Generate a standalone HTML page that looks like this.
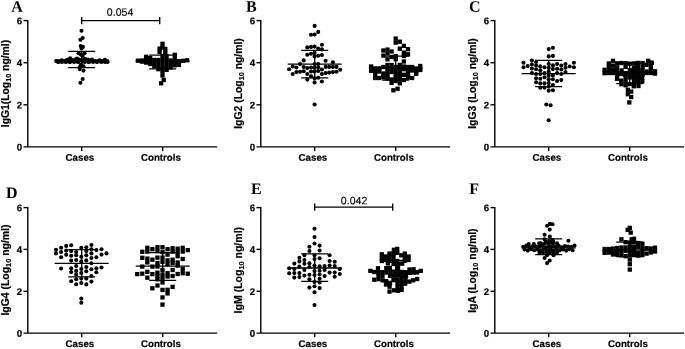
<!DOCTYPE html>
<html><head><meta charset="utf-8"><title>Figure</title>
<style>
html,body{margin:0;padding:0;background:#fff}
svg{display:block}
text{font-family:"Liberation Sans",Arial,sans-serif;fill:#000}
.pl{font-family:"Liberation Serif","Times New Roman",serif;font-weight:bold;font-size:16px}
.tk{font-weight:bold;font-size:9.7px;stroke:#000;stroke-width:.2px}
.yt{font-weight:bold;font-size:10.3px;stroke:#000;stroke-width:.2px}
.sub{font-size:7px}
.pv{font-size:10.6px;stroke:#000;stroke-width:.12px}
.ax{stroke:#000;stroke-width:1.4;fill:none}
.eb{stroke:#000;stroke-width:1.3;fill:none}
.eb2{stroke:#000;stroke-width:1.35;fill:none}
.panel circle,.panel rect{fill:#000}
</style></head><body>
<svg width="685" height="349" viewBox="0 0 685 349">
<rect width="100%" height="100%" fill="#fff"/>
<g class="panel">
<text class="pl" transform="translate(11.3 11.7) rotate(0.03)">A</text>
<path class="ax" d="M27.8 19.95V146.9M23.5 146.9H217.1"/>
<path class="ax" d="M23.5 20.6H27.8"/>
<text class="tk" transform="translate(22.2 24.15) rotate(0.03)" text-anchor="end">6</text>
<path class="ax" d="M23.5 62.7H27.8"/>
<text class="tk" transform="translate(22.2 66.27) rotate(0.03)" text-anchor="end">4</text>
<path class="ax" d="M23.5 104.8H27.8"/>
<text class="tk" transform="translate(22.2 108.38) rotate(0.03)" text-anchor="end">2</text>
<text class="tk" transform="translate(22.2 150.50) rotate(0.03)" text-anchor="end">0</text>
<path class="ax" d="M81.7 146.9v4.1"/>
<text class="tk" transform="translate(79.9 160.65) rotate(0.03)" text-anchor="middle">Cases</text>
<path class="ax" d="M162.7 146.9v4.1"/>
<text class="tk" transform="translate(160.9 160.65) rotate(0.03)" text-anchor="middle">Controls</text>
<text class="yt" style="font-size:10.35px" transform="translate(9.1 127.2) rotate(-90)">IgG1(Log<tspan style="font-size:7.24px" dy="1.6">10</tspan><tspan dy="-1.6"> ng/ml)</tspan></text>
<circle cx="81.5" cy="30.8" r="2.05"/>
<circle cx="82.7" cy="38.0" r="2.05"/>
<circle cx="80.4" cy="39.7" r="2.05"/>
<circle cx="80.7" cy="46.0" r="2.05"/>
<circle cx="82.9" cy="46.9" r="2.05"/>
<circle cx="81.6" cy="48.5" r="2.05"/>
<circle cx="78.5" cy="53.2" r="2.05"/>
<circle cx="84.6" cy="53.2" r="2.05"/>
<circle cx="80.8" cy="54.6" r="2.05"/>
<circle cx="82.6" cy="55.8" r="2.05"/>
<circle cx="81.0" cy="64.5" r="2.05"/>
<circle cx="79.8" cy="67.0" r="2.05"/>
<circle cx="83.5" cy="66.2" r="2.05"/>
<circle cx="83.5" cy="70.6" r="2.05"/>
<circle cx="79.7" cy="69.1" r="2.05"/>
<circle cx="82.7" cy="79.0" r="2.05"/>
<circle cx="80.4" cy="82.7" r="2.05"/>
<circle cx="70.1" cy="58.2" r="2.05"/>
<circle cx="77.0" cy="58.6" r="2.05"/>
<circle cx="85.0" cy="58.8" r="2.05"/>
<circle cx="56.3" cy="61.1" r="2.05"/>
<circle cx="59.0" cy="61.8" r="2.05"/>
<circle cx="61.7" cy="60.2" r="2.05"/>
<circle cx="64.4" cy="61.4" r="2.05"/>
<circle cx="67.1" cy="59.9" r="2.05"/>
<circle cx="69.8" cy="61.9" r="2.05"/>
<circle cx="72.5" cy="60.6" r="2.05"/>
<circle cx="75.2" cy="61.1" r="2.05"/>
<circle cx="77.9" cy="61.8" r="2.05"/>
<circle cx="80.6" cy="60.2" r="2.05"/>
<circle cx="83.3" cy="61.4" r="2.05"/>
<circle cx="86.0" cy="59.9" r="2.05"/>
<circle cx="88.7" cy="61.9" r="2.05"/>
<circle cx="91.4" cy="60.6" r="2.05"/>
<circle cx="94.1" cy="61.1" r="2.05"/>
<circle cx="96.8" cy="61.8" r="2.05"/>
<circle cx="99.5" cy="60.2" r="2.05"/>
<circle cx="102.2" cy="61.4" r="2.05"/>
<circle cx="104.9" cy="59.9" r="2.05"/>
<circle cx="107.6" cy="61.9" r="2.05"/>
<circle cx="58.0" cy="62.0" r="2.05"/>
<circle cx="62.0" cy="62.0" r="2.05"/>
<circle cx="66.0" cy="62.0" r="2.05"/>
<circle cx="70.0" cy="62.0" r="2.05"/>
<circle cx="74.0" cy="62.0" r="2.05"/>
<circle cx="78.0" cy="62.0" r="2.05"/>
<circle cx="85.0" cy="62.0" r="2.05"/>
<circle cx="89.0" cy="62.0" r="2.05"/>
<circle cx="93.0" cy="62.0" r="2.05"/>
<circle cx="97.0" cy="62.0" r="2.05"/>
<circle cx="101.0" cy="62.0" r="2.05"/>
<circle cx="105.0" cy="62.0" r="2.05"/>
<circle cx="71.0" cy="59.6" r="2.05"/>
<circle cx="75.0" cy="59.6" r="2.05"/>
<circle cx="79.0" cy="59.6" r="2.05"/>
<circle cx="84.0" cy="59.6" r="2.05"/>
<circle cx="88.0" cy="59.6" r="2.05"/>
<circle cx="92.0" cy="59.6" r="2.05"/>
<path class="eb" d="M54.7 59.9H108.7M68.2 67.7H95.2M68.2 51.4H95.2M81.7 67.7V51.4"/>
<rect x="160.35" y="41.65" width="4.3" height="4.3"/>
<rect x="160.35" y="45.45" width="4.3" height="4.3"/>
<rect x="160.35" y="53.85" width="4.3" height="4.3"/>
<rect x="160.35" y="57.85" width="4.3" height="4.3"/>
<rect x="160.35" y="61.85" width="4.3" height="4.3"/>
<rect x="160.35" y="65.85" width="4.3" height="4.3"/>
<rect x="160.35" y="69.35" width="4.3" height="4.3"/>
<rect x="160.35" y="73.35" width="4.3" height="4.3"/>
<rect x="161.55" y="77.85" width="4.3" height="4.3"/>
<rect x="158.95" y="81.15" width="4.3" height="4.3"/>
<rect x="156.25" y="57.85" width="4.3" height="4.3"/>
<rect x="156.25" y="61.35" width="4.3" height="4.3"/>
<rect x="156.25" y="64.85" width="4.3" height="4.3"/>
<rect x="156.25" y="67.05" width="4.3" height="4.3"/>
<rect x="164.45" y="54.05" width="4.3" height="4.3"/>
<rect x="164.45" y="57.85" width="4.3" height="4.3"/>
<rect x="164.45" y="61.85" width="4.3" height="4.3"/>
<rect x="164.45" y="65.85" width="4.3" height="4.3"/>
<rect x="164.45" y="67.65" width="4.3" height="4.3"/>
<rect x="152.15" y="57.85" width="4.3" height="4.3"/>
<rect x="152.15" y="61.35" width="4.3" height="4.3"/>
<rect x="152.15" y="64.05" width="4.3" height="4.3"/>
<rect x="168.55" y="58.35" width="4.3" height="4.3"/>
<rect x="168.55" y="61.85" width="4.3" height="4.3"/>
<rect x="168.55" y="65.25" width="4.3" height="4.3"/>
<rect x="172.65" y="52.65" width="4.3" height="4.3"/>
<rect x="172.65" y="56.35" width="4.3" height="4.3"/>
<rect x="172.65" y="59.85" width="4.3" height="4.3"/>
<rect x="172.65" y="63.15" width="4.3" height="4.3"/>
<rect x="148.05" y="55.85" width="4.3" height="4.3"/>
<rect x="148.05" y="59.35" width="4.3" height="4.3"/>
<rect x="148.05" y="61.85" width="4.3" height="4.3"/>
<rect x="143.95" y="54.65" width="4.3" height="4.3"/>
<rect x="143.95" y="58.05" width="4.3" height="4.3"/>
<rect x="143.95" y="60.45" width="4.3" height="4.3"/>
<rect x="176.75" y="59.05" width="4.3" height="4.3"/>
<rect x="176.75" y="62.65" width="4.3" height="4.3"/>
<rect x="180.85" y="58.65" width="4.3" height="4.3"/>
<rect x="139.85" y="58.35" width="4.3" height="4.3"/>
<rect x="139.85" y="59.45" width="4.3" height="4.3"/>
<rect x="184.95" y="58.15" width="4.3" height="4.3"/>
<rect x="135.75" y="58.55" width="4.3" height="4.3"/>
<rect x="157.45" y="46.45" width="4.3" height="4.3"/>
<rect x="157.45" y="49.85" width="4.3" height="4.3"/>
<rect x="163.15" y="46.75" width="4.3" height="4.3"/>
<rect x="163.15" y="50.35" width="4.3" height="4.3"/>
<path class="eb" d="M135.7 61.2H189.7M149.2 68.8H176.2M149.2 55.2H176.2M162.7 68.8V55.2"/>
<path class="eb2" d="M81.7 20.6H159.7M81.7 16.900000000000002v7.4M159.7 16.900000000000002v7.4"/>
<text class="pv" transform="translate(120.1 15.8) rotate(0.03)" text-anchor="middle">0.054</text>
</g>
<g class="panel">
<text class="pl" transform="translate(246.0 11.7) rotate(0.03)">B</text>
<path class="ax" d="M260.8 19.95V146.9M256.5 146.9H450.1"/>
<path class="ax" d="M256.5 20.6H260.8"/>
<text class="tk" transform="translate(255.2 24.15) rotate(0.03)" text-anchor="end">6</text>
<path class="ax" d="M256.5 62.7H260.8"/>
<text class="tk" transform="translate(255.2 66.27) rotate(0.03)" text-anchor="end">4</text>
<path class="ax" d="M256.5 104.8H260.8"/>
<text class="tk" transform="translate(255.2 108.38) rotate(0.03)" text-anchor="end">2</text>
<text class="tk" transform="translate(255.2 150.50) rotate(0.03)" text-anchor="end">0</text>
<path class="ax" d="M314.7 146.9v4.1"/>
<text class="tk" transform="translate(312.9 160.65) rotate(0.03)" text-anchor="middle">Cases</text>
<path class="ax" d="M395.7 146.9v4.1"/>
<text class="tk" transform="translate(393.9 160.65) rotate(0.03)" text-anchor="middle">Controls</text>
<text class="yt" style="font-size:10.4px" transform="translate(242.3 128.8) rotate(-90)">IgG2 (Log<tspan style="font-size:7.28px" dy="1.6">10</tspan><tspan dy="-1.6"> ng/ml)</tspan></text>
<circle cx="314.6" cy="25.9" r="2.05"/>
<circle cx="314.6" cy="34.5" r="2.05"/>
<circle cx="314.6" cy="46.6" r="2.05"/>
<circle cx="314.6" cy="52.9" r="2.05"/>
<circle cx="314.6" cy="56.6" r="2.05"/>
<circle cx="314.6" cy="64.1" r="2.05"/>
<circle cx="314.6" cy="67.8" r="2.05"/>
<circle cx="314.6" cy="71.5" r="2.05"/>
<circle cx="314.6" cy="78.2" r="2.05"/>
<circle cx="314.6" cy="82.4" r="2.05"/>
<circle cx="314.6" cy="104.5" r="2.05"/>
<circle cx="318.2" cy="31.9" r="2.05"/>
<circle cx="318.2" cy="48.5" r="2.05"/>
<circle cx="318.2" cy="55.7" r="2.05"/>
<circle cx="318.2" cy="64.1" r="2.05"/>
<circle cx="318.2" cy="67.3" r="2.05"/>
<circle cx="318.2" cy="71.0" r="2.05"/>
<circle cx="318.2" cy="77.8" r="2.05"/>
<circle cx="311.0" cy="34.8" r="2.05"/>
<circle cx="311.0" cy="46.9" r="2.05"/>
<circle cx="311.0" cy="53.8" r="2.05"/>
<circle cx="311.0" cy="67.5" r="2.05"/>
<circle cx="311.0" cy="71.5" r="2.05"/>
<circle cx="311.0" cy="76.4" r="2.05"/>
<circle cx="321.9" cy="44.8" r="2.05"/>
<circle cx="321.9" cy="49.4" r="2.05"/>
<circle cx="321.9" cy="55.0" r="2.05"/>
<circle cx="321.9" cy="69.5" r="2.05"/>
<circle cx="321.9" cy="74.0" r="2.05"/>
<circle cx="321.9" cy="81.5" r="2.05"/>
<circle cx="307.3" cy="47.4" r="2.05"/>
<circle cx="307.3" cy="54.7" r="2.05"/>
<circle cx="307.3" cy="68.0" r="2.05"/>
<circle cx="307.3" cy="74.0" r="2.05"/>
<circle cx="307.3" cy="79.6" r="2.05"/>
<circle cx="325.6" cy="60.8" r="2.05"/>
<circle cx="325.6" cy="66.9" r="2.05"/>
<circle cx="325.6" cy="73.1" r="2.05"/>
<circle cx="303.7" cy="60.4" r="2.05"/>
<circle cx="303.7" cy="67.0" r="2.05"/>
<circle cx="303.7" cy="71.2" r="2.05"/>
<circle cx="329.2" cy="66.9" r="2.05"/>
<circle cx="329.2" cy="72.6" r="2.05"/>
<circle cx="300.0" cy="64.1" r="2.05"/>
<circle cx="300.0" cy="71.7" r="2.05"/>
<circle cx="332.9" cy="62.2" r="2.05"/>
<circle cx="332.9" cy="66.9" r="2.05"/>
<circle cx="332.9" cy="72.1" r="2.05"/>
<circle cx="296.4" cy="67.5" r="2.05"/>
<circle cx="296.4" cy="72.1" r="2.05"/>
<circle cx="336.5" cy="66.9" r="2.05"/>
<circle cx="336.5" cy="71.7" r="2.05"/>
<circle cx="292.7" cy="66.5" r="2.05"/>
<circle cx="292.7" cy="74.0" r="2.05"/>
<circle cx="340.2" cy="69.8" r="2.05"/>
<circle cx="289.1" cy="69.3" r="2.05"/>
<path class="eb" d="M287.7 64.1H341.7M301.2 77.8H328.2M301.2 50.4H328.2M314.7 77.8V50.4"/>
<rect x="393.55" y="36.45" width="4.3" height="4.3"/>
<rect x="393.55" y="40.45" width="4.3" height="4.3"/>
<rect x="393.55" y="54.05" width="4.3" height="4.3"/>
<rect x="393.55" y="57.05" width="4.3" height="4.3"/>
<rect x="393.55" y="64.85" width="4.3" height="4.3"/>
<rect x="393.55" y="68.35" width="4.3" height="4.3"/>
<rect x="393.55" y="71.85" width="4.3" height="4.3"/>
<rect x="393.55" y="75.35" width="4.3" height="4.3"/>
<rect x="393.55" y="78.85" width="4.3" height="4.3"/>
<rect x="397.65" y="39.55" width="4.3" height="4.3"/>
<rect x="397.65" y="46.55" width="4.3" height="4.3"/>
<rect x="397.65" y="62.85" width="4.3" height="4.3"/>
<rect x="397.65" y="66.35" width="4.3" height="4.3"/>
<rect x="397.65" y="69.85" width="4.3" height="4.3"/>
<rect x="397.65" y="73.35" width="4.3" height="4.3"/>
<rect x="397.65" y="76.85" width="4.3" height="4.3"/>
<rect x="397.65" y="81.15" width="4.3" height="4.3"/>
<rect x="401.75" y="43.75" width="4.3" height="4.3"/>
<rect x="401.75" y="50.45" width="4.3" height="4.3"/>
<rect x="401.75" y="53.85" width="4.3" height="4.3"/>
<rect x="401.75" y="59.35" width="4.3" height="4.3"/>
<rect x="401.75" y="64.35" width="4.3" height="4.3"/>
<rect x="401.75" y="67.05" width="4.3" height="4.3"/>
<rect x="401.75" y="72.65" width="4.3" height="4.3"/>
<rect x="401.75" y="77.85" width="4.3" height="4.3"/>
<rect x="405.85" y="47.05" width="4.3" height="4.3"/>
<rect x="405.85" y="52.15" width="4.3" height="4.3"/>
<rect x="405.85" y="64.85" width="4.3" height="4.3"/>
<rect x="405.85" y="68.35" width="4.3" height="4.3"/>
<rect x="405.85" y="71.85" width="4.3" height="4.3"/>
<rect x="405.85" y="75.35" width="4.3" height="4.3"/>
<rect x="389.45" y="49.35" width="4.3" height="4.3"/>
<rect x="389.45" y="54.85" width="4.3" height="4.3"/>
<rect x="389.45" y="62.85" width="4.3" height="4.3"/>
<rect x="389.45" y="66.35" width="4.3" height="4.3"/>
<rect x="389.45" y="69.85" width="4.3" height="4.3"/>
<rect x="389.45" y="77.35" width="4.3" height="4.3"/>
<rect x="389.45" y="80.65" width="4.3" height="4.3"/>
<rect x="385.35" y="47.45" width="4.3" height="4.3"/>
<rect x="385.35" y="51.25" width="4.3" height="4.3"/>
<rect x="385.35" y="57.15" width="4.3" height="4.3"/>
<rect x="385.35" y="62.85" width="4.3" height="4.3"/>
<rect x="385.35" y="66.35" width="4.3" height="4.3"/>
<rect x="385.35" y="69.85" width="4.3" height="4.3"/>
<rect x="385.35" y="73.35" width="4.3" height="4.3"/>
<rect x="385.35" y="76.35" width="4.3" height="4.3"/>
<rect x="381.25" y="48.35" width="4.3" height="4.3"/>
<rect x="381.25" y="53.45" width="4.3" height="4.3"/>
<rect x="381.25" y="64.85" width="4.3" height="4.3"/>
<rect x="381.25" y="71.35" width="4.3" height="4.3"/>
<rect x="381.25" y="74.85" width="4.3" height="4.3"/>
<rect x="377.15" y="66.25" width="4.3" height="4.3"/>
<rect x="377.15" y="69.35" width="4.3" height="4.3"/>
<rect x="377.15" y="75.85" width="4.3" height="4.3"/>
<rect x="373.05" y="66.25" width="4.3" height="4.3"/>
<rect x="373.05" y="69.85" width="4.3" height="4.3"/>
<rect x="373.05" y="73.35" width="4.3" height="4.3"/>
<rect x="373.05" y="75.85" width="4.3" height="4.3"/>
<rect x="368.95" y="64.35" width="4.3" height="4.3"/>
<rect x="368.95" y="68.65" width="4.3" height="4.3"/>
<rect x="409.95" y="64.85" width="4.3" height="4.3"/>
<rect x="409.95" y="68.35" width="4.3" height="4.3"/>
<rect x="409.95" y="75.85" width="4.3" height="4.3"/>
<rect x="414.05" y="66.35" width="4.3" height="4.3"/>
<rect x="414.05" y="69.85" width="4.3" height="4.3"/>
<rect x="414.05" y="71.65" width="4.3" height="4.3"/>
<rect x="418.15" y="63.85" width="4.3" height="4.3"/>
<rect x="418.15" y="67.85" width="4.3" height="4.3"/>
<rect x="391.25" y="88.15" width="4.3" height="4.3"/>
<rect x="395.45" y="86.55" width="4.3" height="4.3"/>
<path class="eb" d="M368.7 68.2H422.7M382.2 80H409.2M382.2 56.2H409.2M395.7 80V56.2"/>
</g>
<g class="panel">
<text class="pl" transform="translate(469.0 11.8) rotate(0.03)">C</text>
<path class="ax" d="M494.8 19.95V146.9M490.5 146.9H684.1"/>
<path class="ax" d="M490.5 20.6H494.8"/>
<text class="tk" transform="translate(489.2 24.15) rotate(0.03)" text-anchor="end">6</text>
<path class="ax" d="M490.5 62.7H494.8"/>
<text class="tk" transform="translate(489.2 66.27) rotate(0.03)" text-anchor="end">4</text>
<path class="ax" d="M490.5 104.8H494.8"/>
<text class="tk" transform="translate(489.2 108.38) rotate(0.03)" text-anchor="end">2</text>
<text class="tk" transform="translate(489.2 150.50) rotate(0.03)" text-anchor="end">0</text>
<path class="ax" d="M548.7 146.9v4.1"/>
<text class="tk" transform="translate(546.9 160.65) rotate(0.03)" text-anchor="middle">Cases</text>
<path class="ax" d="M629.7 146.9v4.1"/>
<text class="tk" transform="translate(627.9 160.65) rotate(0.03)" text-anchor="middle">Controls</text>
<text class="yt" style="font-size:10.4px" transform="translate(476.3 128.8) rotate(-90)">IgG3 (Log<tspan style="font-size:7.28px" dy="1.6">10</tspan><tspan dy="-1.6"> ng/ml)</tspan></text>
<circle cx="523.5" cy="62.8" r="2.05"/>
<circle cx="523.5" cy="67.3" r="2.05"/>
<circle cx="527.7" cy="66.1" r="2.05"/>
<circle cx="531.9" cy="60.6" r="2.05"/>
<circle cx="531.9" cy="64.5" r="2.05"/>
<circle cx="531.9" cy="68.5" r="2.05"/>
<circle cx="531.9" cy="73.1" r="2.05"/>
<circle cx="536.1" cy="62.0" r="2.05"/>
<circle cx="536.1" cy="65.5" r="2.05"/>
<circle cx="536.1" cy="69.2" r="2.05"/>
<circle cx="536.1" cy="74.0" r="2.05"/>
<circle cx="536.1" cy="78.2" r="2.05"/>
<circle cx="536.1" cy="82.2" r="2.05"/>
<circle cx="540.3" cy="66.4" r="2.05"/>
<circle cx="540.3" cy="70.2" r="2.05"/>
<circle cx="540.3" cy="74.0" r="2.05"/>
<circle cx="540.3" cy="78.7" r="2.05"/>
<circle cx="540.3" cy="83.4" r="2.05"/>
<circle cx="540.3" cy="87.8" r="2.05"/>
<circle cx="544.5" cy="67.3" r="2.05"/>
<circle cx="544.5" cy="73.1" r="2.05"/>
<circle cx="544.5" cy="77.3" r="2.05"/>
<circle cx="544.5" cy="83.4" r="2.05"/>
<circle cx="544.5" cy="87.6" r="2.05"/>
<circle cx="548.7" cy="49.1" r="2.05"/>
<circle cx="548.7" cy="56.4" r="2.05"/>
<circle cx="548.7" cy="64.0" r="2.05"/>
<circle cx="548.7" cy="67.9" r="2.05"/>
<circle cx="548.7" cy="71.7" r="2.05"/>
<circle cx="548.7" cy="75.5" r="2.05"/>
<circle cx="548.7" cy="79.2" r="2.05"/>
<circle cx="548.7" cy="83.0" r="2.05"/>
<circle cx="548.7" cy="86.6" r="2.05"/>
<circle cx="548.7" cy="90.8" r="2.05"/>
<circle cx="548.7" cy="120.3" r="2.05"/>
<circle cx="552.9" cy="47.8" r="2.05"/>
<circle cx="552.9" cy="55.9" r="2.05"/>
<circle cx="552.9" cy="65.4" r="2.05"/>
<circle cx="552.9" cy="69.1" r="2.05"/>
<circle cx="552.9" cy="75.4" r="2.05"/>
<circle cx="552.9" cy="79.2" r="2.05"/>
<circle cx="552.9" cy="85.0" r="2.05"/>
<circle cx="552.9" cy="90.2" r="2.05"/>
<circle cx="557.1" cy="64.0" r="2.05"/>
<circle cx="557.1" cy="68.7" r="2.05"/>
<circle cx="557.1" cy="73.1" r="2.05"/>
<circle cx="557.1" cy="81.0" r="2.05"/>
<circle cx="561.3" cy="65.6" r="2.05"/>
<circle cx="561.3" cy="69.5" r="2.05"/>
<circle cx="561.3" cy="74.0" r="2.05"/>
<circle cx="561.3" cy="80.1" r="2.05"/>
<circle cx="565.5" cy="64.0" r="2.05"/>
<circle cx="565.5" cy="67.8" r="2.05"/>
<circle cx="565.5" cy="72.1" r="2.05"/>
<circle cx="569.7" cy="66.5" r="2.05"/>
<circle cx="573.9" cy="62.8" r="2.05"/>
<circle cx="573.9" cy="67.3" r="2.05"/>
<circle cx="546.3" cy="104.5" r="2.05"/>
<circle cx="550.6" cy="105.2" r="2.05"/>
<path class="eb" d="M521.7 73.6H575.7M535.2 86.6H562.2M535.2 60.3H562.2M548.7 86.6V60.3"/>
<rect x="602.45" y="67.65" width="4.3" height="4.3"/>
<rect x="602.45" y="71.05" width="4.3" height="4.3"/>
<rect x="606.65" y="61.35" width="4.3" height="4.3"/>
<rect x="606.65" y="64.85" width="4.3" height="4.3"/>
<rect x="606.65" y="68.85" width="4.3" height="4.3"/>
<rect x="606.65" y="70.85" width="4.3" height="4.3"/>
<rect x="610.85" y="58.65" width="4.3" height="4.3"/>
<rect x="610.85" y="63.45" width="4.3" height="4.3"/>
<rect x="610.85" y="67.65" width="4.3" height="4.3"/>
<rect x="610.85" y="70.85" width="4.3" height="4.3"/>
<rect x="644.45" y="62.65" width="4.3" height="4.3"/>
<rect x="644.45" y="69.35" width="4.3" height="4.3"/>
<rect x="644.45" y="70.85" width="4.3" height="4.3"/>
<rect x="648.65" y="60.65" width="4.3" height="4.3"/>
<rect x="648.65" y="64.15" width="4.3" height="4.3"/>
<rect x="648.65" y="67.85" width="4.3" height="4.3"/>
<rect x="648.65" y="70.85" width="4.3" height="4.3"/>
<rect x="652.85" y="69.15" width="4.3" height="4.3"/>
<rect x="652.85" y="71.45" width="4.3" height="4.3"/>
<rect x="646.05" y="58.65" width="4.3" height="4.3"/>
<rect x="649.65" y="60.65" width="4.3" height="4.3"/>
<rect x="627.15" y="100.25" width="4.3" height="4.3"/>
<rect x="614.85" y="71.05" width="4.3" height="4.3"/>
<rect x="619.05" y="71.05" width="4.3" height="4.3"/>
<rect x="623.25" y="71.05" width="4.3" height="4.3"/>
<rect x="627.45" y="71.05" width="4.3" height="4.3"/>
<rect x="631.65" y="71.05" width="4.3" height="4.3"/>
<rect x="635.85" y="71.05" width="4.3" height="4.3"/>
<rect x="640.05" y="71.05" width="4.3" height="4.3"/>
<rect x="615.08" y="61.20" width="4.3" height="4.3"/>
<rect x="615.03" y="65.30" width="4.3" height="4.3"/>
<rect x="614.89" y="68.90" width="4.3" height="4.3"/>
<rect x="615.11" y="73.00" width="4.3" height="4.3"/>
<rect x="614.85" y="76.60" width="4.3" height="4.3"/>
<rect x="619.27" y="60.89" width="4.3" height="4.3"/>
<rect x="619.48" y="68.29" width="4.3" height="4.3"/>
<rect x="619.31" y="71.89" width="4.3" height="4.3"/>
<rect x="619.02" y="78.49" width="4.3" height="4.3"/>
<rect x="619.30" y="82.09" width="4.3" height="4.3"/>
<rect x="623.50" y="61.08" width="4.3" height="4.3"/>
<rect x="623.46" y="64.68" width="4.3" height="4.3"/>
<rect x="623.20" y="72.68" width="4.3" height="4.3"/>
<rect x="623.43" y="75.98" width="4.3" height="4.3"/>
<rect x="623.40" y="79.88" width="4.3" height="4.3"/>
<rect x="623.55" y="83.18" width="4.3" height="4.3"/>
<rect x="627.66" y="61.51" width="4.3" height="4.3"/>
<rect x="627.68" y="68.11" width="4.3" height="4.3"/>
<rect x="627.60" y="71.41" width="4.3" height="4.3"/>
<rect x="627.59" y="75.31" width="4.3" height="4.3"/>
<rect x="627.51" y="81.91" width="4.3" height="4.3"/>
<rect x="632.09" y="61.22" width="4.3" height="4.3"/>
<rect x="631.81" y="65.32" width="4.3" height="4.3"/>
<rect x="631.99" y="68.92" width="4.3" height="4.3"/>
<rect x="631.77" y="72.82" width="4.3" height="4.3"/>
<rect x="631.77" y="76.72" width="4.3" height="4.3"/>
<rect x="631.98" y="80.82" width="4.3" height="4.3"/>
<rect x="631.67" y="84.12" width="4.3" height="4.3"/>
<rect x="636.03" y="60.76" width="4.3" height="4.3"/>
<rect x="635.89" y="64.86" width="4.3" height="4.3"/>
<rect x="636.02" y="68.46" width="4.3" height="4.3"/>
<rect x="636.29" y="72.06" width="4.3" height="4.3"/>
<rect x="636.01" y="75.66" width="4.3" height="4.3"/>
<rect x="635.86" y="79.76" width="4.3" height="4.3"/>
<rect x="636.30" y="83.86" width="4.3" height="4.3"/>
<rect x="640.49" y="61.02" width="4.3" height="4.3"/>
<rect x="640.50" y="64.92" width="4.3" height="4.3"/>
<rect x="640.11" y="68.22" width="4.3" height="4.3"/>
<rect x="640.50" y="72.32" width="4.3" height="4.3"/>
<rect x="640.02" y="75.62" width="4.3" height="4.3"/>
<rect x="640.11" y="79.22" width="4.3" height="4.3"/>
<rect x="625.75" y="87.65" width="4.3" height="4.3"/>
<rect x="629.05" y="89.45" width="4.3" height="4.3"/>
<rect x="625.75" y="92.05" width="4.3" height="4.3"/>
<rect x="629.05" y="94.85" width="4.3" height="4.3"/>
<path class="eb" d="M602.7 73.2H656.7M616.2 83.7H643.2M616.2 63H643.2M629.7 83.7V63"/>
</g>
<g class="panel">
<text class="pl" transform="translate(5.9 198.1) rotate(0.03)">D</text>
<path class="ax" d="M27.8 206.95000000000002V333.15M23.5 333.15H217.1"/>
<path class="ax" d="M23.5 207.6H27.8"/>
<text class="tk" transform="translate(22.2 211.15) rotate(0.03)" text-anchor="end">6</text>
<path class="ax" d="M23.5 249.4H27.8"/>
<text class="tk" transform="translate(22.2 253.02) rotate(0.03)" text-anchor="end">4</text>
<path class="ax" d="M23.5 291.3H27.8"/>
<text class="tk" transform="translate(22.2 294.88) rotate(0.03)" text-anchor="end">2</text>
<text class="tk" transform="translate(22.2 336.75) rotate(0.03)" text-anchor="end">0</text>
<path class="ax" d="M81.7 333.15v4.1"/>
<text class="tk" transform="translate(79.9 346.90) rotate(0.03)" text-anchor="middle">Cases</text>
<path class="ax" d="M162.7 333.15v4.1"/>
<text class="tk" transform="translate(160.9 346.90) rotate(0.03)" text-anchor="middle">Controls</text>
<text class="yt" style="font-size:10.44px" transform="translate(9.1 315.6) rotate(-90)">IgG4 (Log<tspan style="font-size:7.31px" dy="1.6">10</tspan><tspan dy="-1.6"> ng/ml)</tspan></text>
<circle cx="56.0" cy="249.7" r="2.05"/>
<circle cx="56.0" cy="253.4" r="2.05"/>
<circle cx="61.1" cy="247.8" r="2.05"/>
<circle cx="61.1" cy="252.0" r="2.05"/>
<circle cx="61.1" cy="257.2" r="2.05"/>
<circle cx="61.1" cy="268.5" r="2.05"/>
<circle cx="66.2" cy="245.9" r="2.05"/>
<circle cx="66.2" cy="250.6" r="2.05"/>
<circle cx="66.2" cy="254.8" r="2.05"/>
<circle cx="71.2" cy="245.3" r="2.05"/>
<circle cx="71.2" cy="251.1" r="2.05"/>
<circle cx="71.2" cy="255.8" r="2.05"/>
<circle cx="71.2" cy="260.6" r="2.05"/>
<circle cx="71.2" cy="268.2" r="2.05"/>
<circle cx="71.2" cy="272.1" r="2.05"/>
<circle cx="71.2" cy="281.2" r="2.05"/>
<circle cx="76.2" cy="252.0" r="2.05"/>
<circle cx="76.2" cy="255.3" r="2.05"/>
<circle cx="76.2" cy="260.0" r="2.05"/>
<circle cx="76.2" cy="266.1" r="2.05"/>
<circle cx="76.2" cy="270.9" r="2.05"/>
<circle cx="76.2" cy="274.6" r="2.05"/>
<circle cx="76.2" cy="279.3" r="2.05"/>
<circle cx="76.2" cy="284.2" r="2.05"/>
<circle cx="81.3" cy="247.8" r="2.05"/>
<circle cx="81.3" cy="256.7" r="2.05"/>
<circle cx="81.3" cy="261.4" r="2.05"/>
<circle cx="81.3" cy="269.0" r="2.05"/>
<circle cx="81.3" cy="273.0" r="2.05"/>
<circle cx="81.3" cy="278.6" r="2.05"/>
<circle cx="81.3" cy="283.0" r="2.05"/>
<circle cx="81.3" cy="298.6" r="2.05"/>
<circle cx="81.3" cy="302.7" r="2.05"/>
<circle cx="86.3" cy="247.3" r="2.05"/>
<circle cx="86.3" cy="251.1" r="2.05"/>
<circle cx="86.3" cy="255.3" r="2.05"/>
<circle cx="86.3" cy="260.4" r="2.05"/>
<circle cx="86.3" cy="267.1" r="2.05"/>
<circle cx="86.3" cy="271.2" r="2.05"/>
<circle cx="86.3" cy="278.6" r="2.05"/>
<circle cx="86.3" cy="284.4" r="2.05"/>
<circle cx="91.4" cy="245.0" r="2.05"/>
<circle cx="91.4" cy="249.2" r="2.05"/>
<circle cx="91.4" cy="253.4" r="2.05"/>
<circle cx="91.4" cy="258.1" r="2.05"/>
<circle cx="91.4" cy="263.2" r="2.05"/>
<circle cx="91.4" cy="269.3" r="2.05"/>
<circle cx="91.4" cy="276.0" r="2.05"/>
<circle cx="91.4" cy="281.6" r="2.05"/>
<circle cx="96.4" cy="250.1" r="2.05"/>
<circle cx="96.4" cy="257.2" r="2.05"/>
<circle cx="96.4" cy="268.2" r="2.05"/>
<circle cx="96.4" cy="272.3" r="2.05"/>
<circle cx="101.5" cy="249.2" r="2.05"/>
<circle cx="101.5" cy="254.6" r="2.05"/>
<circle cx="101.5" cy="267.5" r="2.05"/>
<circle cx="106.5" cy="253.4" r="2.05"/>
<path class="eb" d="M54.7 263.3H108.7M68.2 276.8H95.2M68.2 249.7H95.2M81.7 276.8V249.7"/>
<rect x="135.10" y="271.95" width="4.3" height="4.3"/>
<rect x="140.15" y="249.65" width="4.3" height="4.3"/>
<rect x="140.15" y="255.65" width="4.3" height="4.3"/>
<rect x="140.15" y="264.45" width="4.3" height="4.3"/>
<rect x="140.15" y="271.55" width="4.3" height="4.3"/>
<rect x="145.20" y="245.65" width="4.3" height="4.3"/>
<rect x="145.20" y="249.45" width="4.3" height="4.3"/>
<rect x="145.20" y="256.45" width="4.3" height="4.3"/>
<rect x="145.20" y="260.25" width="4.3" height="4.3"/>
<rect x="145.20" y="269.65" width="4.3" height="4.3"/>
<rect x="145.20" y="275.55" width="4.3" height="4.3"/>
<rect x="150.25" y="247.05" width="4.3" height="4.3"/>
<rect x="150.25" y="257.55" width="4.3" height="4.3"/>
<rect x="150.25" y="264.45" width="4.3" height="4.3"/>
<rect x="150.25" y="271.95" width="4.3" height="4.3"/>
<rect x="150.25" y="286.15" width="4.3" height="4.3"/>
<rect x="155.30" y="245.05" width="4.3" height="4.3"/>
<rect x="155.30" y="248.95" width="4.3" height="4.3"/>
<rect x="155.30" y="255.45" width="4.3" height="4.3"/>
<rect x="155.30" y="260.85" width="4.3" height="4.3"/>
<rect x="155.30" y="264.35" width="4.3" height="4.3"/>
<rect x="155.30" y="270.55" width="4.3" height="4.3"/>
<rect x="155.30" y="273.85" width="4.3" height="4.3"/>
<rect x="155.30" y="277.15" width="4.3" height="4.3"/>
<rect x="155.30" y="283.35" width="4.3" height="4.3"/>
<rect x="160.35" y="245.05" width="4.3" height="4.3"/>
<rect x="160.35" y="249.85" width="4.3" height="4.3"/>
<rect x="160.35" y="255.45" width="4.3" height="4.3"/>
<rect x="160.35" y="259.65" width="4.3" height="4.3"/>
<rect x="160.35" y="267.85" width="4.3" height="4.3"/>
<rect x="160.35" y="272.45" width="4.3" height="4.3"/>
<rect x="160.35" y="276.25" width="4.3" height="4.3"/>
<rect x="160.35" y="280.35" width="4.3" height="4.3"/>
<rect x="160.35" y="287.75" width="4.3" height="4.3"/>
<rect x="160.35" y="295.25" width="4.3" height="4.3"/>
<rect x="160.35" y="302.45" width="4.3" height="4.3"/>
<rect x="165.40" y="247.05" width="4.3" height="4.3"/>
<rect x="165.40" y="252.45" width="4.3" height="4.3"/>
<rect x="165.40" y="258.25" width="4.3" height="4.3"/>
<rect x="165.40" y="262.05" width="4.3" height="4.3"/>
<rect x="165.40" y="271.05" width="4.3" height="4.3"/>
<rect x="165.40" y="274.35" width="4.3" height="4.3"/>
<rect x="165.40" y="287.65" width="4.3" height="4.3"/>
<rect x="165.40" y="291.25" width="4.3" height="4.3"/>
<rect x="170.45" y="246.15" width="4.3" height="4.3"/>
<rect x="170.45" y="249.45" width="4.3" height="4.3"/>
<rect x="170.45" y="257.55" width="4.3" height="4.3"/>
<rect x="170.45" y="260.85" width="4.3" height="4.3"/>
<rect x="170.45" y="267.85" width="4.3" height="4.3"/>
<rect x="170.45" y="273.85" width="4.3" height="4.3"/>
<rect x="170.45" y="284.75" width="4.3" height="4.3"/>
<rect x="175.50" y="246.55" width="4.3" height="4.3"/>
<rect x="175.50" y="250.35" width="4.3" height="4.3"/>
<rect x="175.50" y="254.05" width="4.3" height="4.3"/>
<rect x="175.50" y="260.35" width="4.3" height="4.3"/>
<rect x="175.50" y="263.45" width="4.3" height="4.3"/>
<rect x="175.50" y="271.85" width="4.3" height="4.3"/>
<rect x="180.55" y="245.65" width="4.3" height="4.3"/>
<rect x="180.55" y="249.45" width="4.3" height="4.3"/>
<rect x="180.55" y="256.85" width="4.3" height="4.3"/>
<rect x="180.55" y="266.85" width="4.3" height="4.3"/>
<rect x="180.55" y="271.05" width="4.3" height="4.3"/>
<rect x="185.60" y="247.95" width="4.3" height="4.3"/>
<rect x="185.60" y="271.55" width="4.3" height="4.3"/>
<path class="eb" d="M135.7 266.2H189.7M149.2 280.4H176.2M149.2 252.7H176.2M162.7 280.4V252.7"/>
</g>
<g class="panel">
<text class="pl" transform="translate(251.0 194.1) rotate(0.03)">E</text>
<path class="ax" d="M260.8 206.95000000000002V333.15M256.5 333.15H450.1"/>
<path class="ax" d="M256.5 207.6H260.8"/>
<text class="tk" transform="translate(255.2 211.15) rotate(0.03)" text-anchor="end">6</text>
<path class="ax" d="M256.5 249.4H260.8"/>
<text class="tk" transform="translate(255.2 253.02) rotate(0.03)" text-anchor="end">4</text>
<path class="ax" d="M256.5 291.3H260.8"/>
<text class="tk" transform="translate(255.2 294.88) rotate(0.03)" text-anchor="end">2</text>
<text class="tk" transform="translate(255.2 336.75) rotate(0.03)" text-anchor="end">0</text>
<path class="ax" d="M314.7 333.15v4.1"/>
<text class="tk" transform="translate(312.9 346.90) rotate(0.03)" text-anchor="middle">Cases</text>
<path class="ax" d="M395.7 333.15v4.1"/>
<text class="tk" transform="translate(393.9 346.90) rotate(0.03)" text-anchor="middle">Controls</text>
<text class="yt" style="font-size:10.52px" transform="translate(242.3 313.4) rotate(-90)">IgM (Log<tspan style="font-size:7.36px" dy="1.6">10</tspan><tspan dy="-1.6"> ng/ml)</tspan></text>
<circle cx="314.5" cy="228.7" r="2.05"/>
<circle cx="314.5" cy="237.1" r="2.05"/>
<circle cx="314.5" cy="243.5" r="2.05"/>
<circle cx="314.5" cy="255.3" r="2.05"/>
<circle cx="314.5" cy="259.1" r="2.05"/>
<circle cx="314.5" cy="265.6" r="2.05"/>
<circle cx="314.5" cy="271.1" r="2.05"/>
<circle cx="314.5" cy="275.0" r="2.05"/>
<circle cx="314.5" cy="282.0" r="2.05"/>
<circle cx="314.5" cy="286.2" r="2.05"/>
<circle cx="314.5" cy="292.3" r="2.05"/>
<circle cx="314.5" cy="305.1" r="2.05"/>
<circle cx="309.4" cy="246.8" r="2.05"/>
<circle cx="309.4" cy="251.1" r="2.05"/>
<circle cx="309.4" cy="263.3" r="2.05"/>
<circle cx="309.4" cy="267.0" r="2.05"/>
<circle cx="309.4" cy="274.8" r="2.05"/>
<circle cx="309.4" cy="279.2" r="2.05"/>
<circle cx="309.4" cy="287.6" r="2.05"/>
<circle cx="319.6" cy="245.6" r="2.05"/>
<circle cx="319.6" cy="250.5" r="2.05"/>
<circle cx="319.6" cy="258.3" r="2.05"/>
<circle cx="319.6" cy="266.4" r="2.05"/>
<circle cx="319.6" cy="270.8" r="2.05"/>
<circle cx="319.6" cy="274.5" r="2.05"/>
<circle cx="319.6" cy="278.7" r="2.05"/>
<circle cx="319.6" cy="282.5" r="2.05"/>
<circle cx="319.6" cy="288.1" r="2.05"/>
<circle cx="299.4" cy="257.7" r="2.05"/>
<circle cx="299.4" cy="261.4" r="2.05"/>
<circle cx="299.4" cy="266.6" r="2.05"/>
<circle cx="299.4" cy="273.1" r="2.05"/>
<circle cx="299.4" cy="277.1" r="2.05"/>
<circle cx="304.4" cy="255.3" r="2.05"/>
<circle cx="304.4" cy="260.0" r="2.05"/>
<circle cx="304.4" cy="263.8" r="2.05"/>
<circle cx="304.4" cy="269.9" r="2.05"/>
<circle cx="304.4" cy="275.6" r="2.05"/>
<circle cx="329.6" cy="255.3" r="2.05"/>
<circle cx="329.6" cy="261.0" r="2.05"/>
<circle cx="329.6" cy="265.6" r="2.05"/>
<circle cx="329.6" cy="272.6" r="2.05"/>
<circle cx="334.7" cy="261.7" r="2.05"/>
<circle cx="334.7" cy="266.1" r="2.05"/>
<circle cx="334.7" cy="272.6" r="2.05"/>
<circle cx="334.7" cy="276.7" r="2.05"/>
<circle cx="294.3" cy="263.6" r="2.05"/>
<circle cx="294.3" cy="268.9" r="2.05"/>
<circle cx="294.3" cy="273.1" r="2.05"/>
<circle cx="294.3" cy="277.6" r="2.05"/>
<circle cx="289.2" cy="268.2" r="2.05"/>
<circle cx="289.2" cy="273.3" r="2.05"/>
<circle cx="339.8" cy="269.0" r="2.05"/>
<circle cx="339.8" cy="274.0" r="2.05"/>
<circle cx="324.6" cy="266.1" r="2.05"/>
<circle cx="324.6" cy="270.0" r="2.05"/>
<circle cx="324.6" cy="276.0" r="2.05"/>
<path class="eb" d="M287.7 268H341.7M301.2 281.4H328.2M301.2 253.9H328.2M314.7 281.4V253.9"/>
<rect x="395.05" y="246.75" width="4.3" height="4.3"/>
<rect x="391.75" y="247.65" width="4.3" height="4.3"/>
<rect x="379.65" y="252.15" width="4.3" height="4.3"/>
<rect x="379.65" y="255.85" width="4.3" height="4.3"/>
<rect x="379.65" y="258.85" width="4.3" height="4.3"/>
<rect x="383.55" y="254.35" width="4.3" height="4.3"/>
<rect x="383.55" y="257.85" width="4.3" height="4.3"/>
<rect x="387.35" y="251.45" width="4.3" height="4.3"/>
<rect x="387.35" y="255.05" width="4.3" height="4.3"/>
<rect x="387.35" y="258.65" width="4.3" height="4.3"/>
<rect x="391.35" y="251.35" width="4.3" height="4.3"/>
<rect x="391.35" y="254.85" width="4.3" height="4.3"/>
<rect x="391.35" y="258.35" width="4.3" height="4.3"/>
<rect x="395.15" y="250.65" width="4.3" height="4.3"/>
<rect x="395.15" y="258.85" width="4.3" height="4.3"/>
<rect x="399.15" y="253.15" width="4.3" height="4.3"/>
<rect x="402.65" y="251.45" width="4.3" height="4.3"/>
<rect x="402.65" y="255.05" width="4.3" height="4.3"/>
<rect x="402.65" y="258.65" width="4.3" height="4.3"/>
<rect x="406.45" y="254.35" width="4.3" height="4.3"/>
<rect x="406.45" y="257.85" width="4.3" height="4.3"/>
<rect x="385.75" y="261.25" width="4.3" height="4.3"/>
<rect x="395.85" y="262.05" width="4.3" height="4.3"/>
<rect x="400.05" y="261.45" width="4.3" height="4.3"/>
<rect x="391.45" y="261.85" width="4.3" height="4.3"/>
<rect x="375.85" y="266.15" width="4.3" height="4.3"/>
<rect x="384.15" y="266.05" width="4.3" height="4.3"/>
<rect x="387.65" y="265.85" width="4.3" height="4.3"/>
<rect x="395.85" y="265.65" width="4.3" height="4.3"/>
<rect x="395.85" y="268.85" width="4.3" height="4.3"/>
<rect x="368.25" y="268.75" width="4.3" height="4.3"/>
<rect x="372.15" y="269.85" width="4.3" height="4.3"/>
<rect x="376.15" y="270.45" width="4.3" height="4.3"/>
<rect x="380.25" y="270.15" width="4.3" height="4.3"/>
<rect x="384.35" y="270.35" width="4.3" height="4.3"/>
<rect x="388.35" y="269.85" width="4.3" height="4.3"/>
<rect x="392.35" y="269.45" width="4.3" height="4.3"/>
<rect x="399.85" y="269.85" width="4.3" height="4.3"/>
<rect x="403.85" y="270.35" width="4.3" height="4.3"/>
<rect x="407.35" y="267.35" width="4.3" height="4.3"/>
<rect x="411.45" y="267.15" width="4.3" height="4.3"/>
<rect x="407.65" y="270.65" width="4.3" height="4.3"/>
<rect x="411.65" y="270.45" width="4.3" height="4.3"/>
<rect x="414.85" y="270.25" width="4.3" height="4.3"/>
<rect x="418.55" y="268.75" width="4.3" height="4.3"/>
<rect x="376.35" y="273.45" width="4.3" height="4.3"/>
<rect x="380.35" y="273.65" width="4.3" height="4.3"/>
<rect x="387.85" y="273.65" width="4.3" height="4.3"/>
<rect x="391.85" y="273.35" width="4.3" height="4.3"/>
<rect x="395.85" y="273.05" width="4.3" height="4.3"/>
<rect x="399.85" y="273.65" width="4.3" height="4.3"/>
<rect x="403.85" y="273.85" width="4.3" height="4.3"/>
<rect x="372.15" y="277.55" width="4.3" height="4.3"/>
<rect x="376.35" y="277.05" width="4.3" height="4.3"/>
<rect x="380.45" y="278.15" width="4.3" height="4.3"/>
<rect x="384.05" y="279.05" width="4.3" height="4.3"/>
<rect x="391.35" y="277.35" width="4.3" height="4.3"/>
<rect x="395.35" y="277.15" width="4.3" height="4.3"/>
<rect x="399.35" y="277.35" width="4.3" height="4.3"/>
<rect x="403.35" y="277.65" width="4.3" height="4.3"/>
<rect x="407.15" y="279.45" width="4.3" height="4.3"/>
<rect x="411.05" y="278.15" width="4.3" height="4.3"/>
<rect x="415.05" y="276.85" width="4.3" height="4.3"/>
<rect x="383.85" y="282.35" width="4.3" height="4.3"/>
<rect x="387.85" y="281.35" width="4.3" height="4.3"/>
<rect x="395.35" y="281.05" width="4.3" height="4.3"/>
<rect x="399.35" y="281.25" width="4.3" height="4.3"/>
<rect x="403.05" y="281.45" width="4.3" height="4.3"/>
<rect x="387.45" y="284.55" width="4.3" height="4.3"/>
<rect x="395.35" y="284.85" width="4.3" height="4.3"/>
<rect x="399.35" y="284.65" width="4.3" height="4.3"/>
<rect x="387.35" y="289.45" width="4.3" height="4.3"/>
<rect x="391.85" y="288.15" width="4.3" height="4.3"/>
<rect x="395.85" y="288.65" width="4.3" height="4.3"/>
<rect x="399.45" y="287.75" width="4.3" height="4.3"/>
<path class="eb" d="M368.7 271H422.7M382.2 281.5H409.2M382.2 260.5H409.2M395.7 281.5V260.5"/>
<path class="eb2" d="M314.7 207.15H392.7M314.7 203.45000000000002v7.4M392.7 203.45000000000002v7.4"/>
<text class="pv" transform="translate(354.1 204.2) rotate(0.03)" text-anchor="middle">0.042</text>
</g>
<g class="panel">
<text class="pl" transform="translate(469.3 194.1) rotate(0.03)">F</text>
<path class="ax" d="M494.8 206.95000000000002V333.15M490.5 333.15H684.1"/>
<path class="ax" d="M490.5 207.6H494.8"/>
<text class="tk" transform="translate(489.2 211.15) rotate(0.03)" text-anchor="end">6</text>
<path class="ax" d="M490.5 249.4H494.8"/>
<text class="tk" transform="translate(489.2 253.02) rotate(0.03)" text-anchor="end">4</text>
<path class="ax" d="M490.5 291.3H494.8"/>
<text class="tk" transform="translate(489.2 294.88) rotate(0.03)" text-anchor="end">2</text>
<text class="tk" transform="translate(489.2 336.75) rotate(0.03)" text-anchor="end">0</text>
<path class="ax" d="M548.7 333.15v4.1"/>
<text class="tk" transform="translate(546.9 346.90) rotate(0.03)" text-anchor="middle">Cases</text>
<path class="ax" d="M629.7 333.15v4.1"/>
<text class="tk" transform="translate(627.9 346.90) rotate(0.03)" text-anchor="middle">Controls</text>
<text class="yt" style="font-size:10.46px" transform="translate(476.3 312.8) rotate(-90)">IgA (Log<tspan style="font-size:7.32px" dy="1.6">10</tspan><tspan dy="-1.6"> ng/ml)</tspan></text>
<circle cx="547.1" cy="225.8" r="2.05"/>
<circle cx="549.9" cy="223.9" r="2.05"/>
<circle cx="552.5" cy="224.2" r="2.05"/>
<circle cx="549.7" cy="229.6" r="2.05"/>
<circle cx="544.6" cy="234.7" r="2.05"/>
<circle cx="549.9" cy="236.6" r="2.05"/>
<circle cx="544.6" cy="239.2" r="2.05"/>
<circle cx="552.5" cy="240.1" r="2.05"/>
<circle cx="568.4" cy="240.8" r="2.05"/>
<circle cx="539.2" cy="243.3" r="2.05"/>
<circle cx="533.8" cy="244.0" r="2.05"/>
<circle cx="528.7" cy="244.0" r="2.05"/>
<circle cx="544.6" cy="258.0" r="2.05"/>
<circle cx="549.7" cy="260.5" r="2.05"/>
<circle cx="547.1" cy="263.1" r="2.05"/>
<circle cx="523.3" cy="246.8" r="2.05"/>
<circle cx="526.5" cy="245.6" r="2.05"/>
<circle cx="529.7" cy="247.2" r="2.05"/>
<circle cx="532.9" cy="246.0" r="2.05"/>
<circle cx="536.1" cy="246.5" r="2.05"/>
<circle cx="539.3" cy="246.8" r="2.05"/>
<circle cx="542.5" cy="245.6" r="2.05"/>
<circle cx="545.7" cy="247.2" r="2.05"/>
<circle cx="548.9" cy="246.0" r="2.05"/>
<circle cx="552.1" cy="246.5" r="2.05"/>
<circle cx="555.3" cy="246.8" r="2.05"/>
<circle cx="558.5" cy="245.6" r="2.05"/>
<circle cx="561.7" cy="247.2" r="2.05"/>
<circle cx="564.9" cy="246.0" r="2.05"/>
<circle cx="568.1" cy="246.5" r="2.05"/>
<circle cx="571.3" cy="246.8" r="2.05"/>
<circle cx="574.5" cy="245.6" r="2.05"/>
<circle cx="524.6" cy="249.5" r="2.05"/>
<circle cx="527.8" cy="250.6" r="2.05"/>
<circle cx="531.0" cy="249.1" r="2.05"/>
<circle cx="534.2" cy="250.2" r="2.05"/>
<circle cx="537.4" cy="249.5" r="2.05"/>
<circle cx="540.6" cy="250.6" r="2.05"/>
<circle cx="543.8" cy="249.1" r="2.05"/>
<circle cx="547.0" cy="250.2" r="2.05"/>
<circle cx="550.2" cy="249.5" r="2.05"/>
<circle cx="553.4" cy="250.6" r="2.05"/>
<circle cx="556.6" cy="249.1" r="2.05"/>
<circle cx="559.8" cy="250.2" r="2.05"/>
<circle cx="563.0" cy="249.5" r="2.05"/>
<circle cx="566.2" cy="250.6" r="2.05"/>
<circle cx="569.4" cy="249.1" r="2.05"/>
<circle cx="572.6" cy="250.2" r="2.05"/>
<circle cx="539.5" cy="252.6" r="2.05"/>
<circle cx="543.0" cy="252.6" r="2.05"/>
<circle cx="546.5" cy="252.6" r="2.05"/>
<circle cx="550.0" cy="252.6" r="2.05"/>
<circle cx="553.5" cy="252.6" r="2.05"/>
<circle cx="557.0" cy="252.6" r="2.05"/>
<circle cx="541.0" cy="243.4" r="2.05"/>
<circle cx="545.0" cy="243.4" r="2.05"/>
<circle cx="549.0" cy="243.4" r="2.05"/>
<circle cx="553.0" cy="243.4" r="2.05"/>
<circle cx="557.0" cy="243.4" r="2.05"/>
<circle cx="547.0" cy="255.2" r="2.05"/>
<circle cx="553.5" cy="255.2" r="2.05"/>
<circle cx="546.0" cy="241.3" r="2.05"/>
<circle cx="550.0" cy="241.3" r="2.05"/>
<circle cx="553.0" cy="241.3" r="2.05"/>
<path class="eb" d="M521.7 247.8H575.7M535.2 254.7H562.2M535.2 238.9H562.2M548.7 254.7V238.9"/>
<rect x="627.65" y="225.75" width="4.3" height="4.3"/>
<rect x="625.55" y="227.65" width="4.3" height="4.3"/>
<rect x="628.55" y="230.45" width="4.3" height="4.3"/>
<rect x="627.65" y="257.45" width="4.3" height="4.3"/>
<rect x="627.65" y="262.05" width="4.3" height="4.3"/>
<rect x="627.65" y="267.45" width="4.3" height="4.3"/>
<rect x="602.45" y="246.85" width="4.3" height="4.3"/>
<rect x="602.45" y="250.65" width="4.3" height="4.3"/>
<rect x="606.65" y="246.85" width="4.3" height="4.3"/>
<rect x="606.65" y="250.45" width="4.3" height="4.3"/>
<rect x="610.85" y="246.45" width="4.3" height="4.3"/>
<rect x="610.85" y="249.85" width="4.3" height="4.3"/>
<rect x="610.85" y="252.35" width="4.3" height="4.3"/>
<rect x="615.05" y="245.85" width="4.3" height="4.3"/>
<rect x="615.05" y="249.35" width="4.3" height="4.3"/>
<rect x="615.05" y="252.35" width="4.3" height="4.3"/>
<rect x="619.25" y="237.15" width="4.3" height="4.3"/>
<rect x="619.25" y="245.45" width="4.3" height="4.3"/>
<rect x="619.25" y="249.25" width="4.3" height="4.3"/>
<rect x="619.25" y="253.15" width="4.3" height="4.3"/>
<rect x="623.45" y="240.05" width="4.3" height="4.3"/>
<rect x="623.45" y="245.35" width="4.3" height="4.3"/>
<rect x="623.45" y="248.65" width="4.3" height="4.3"/>
<rect x="623.45" y="254.05" width="4.3" height="4.3"/>
<rect x="627.65" y="240.45" width="4.3" height="4.3"/>
<rect x="627.65" y="244.85" width="4.3" height="4.3"/>
<rect x="627.65" y="248.85" width="4.3" height="4.3"/>
<rect x="627.65" y="253.05" width="4.3" height="4.3"/>
<rect x="631.85" y="236.65" width="4.3" height="4.3"/>
<rect x="631.85" y="240.35" width="4.3" height="4.3"/>
<rect x="631.85" y="245.05" width="4.3" height="4.3"/>
<rect x="631.85" y="248.85" width="4.3" height="4.3"/>
<rect x="631.85" y="252.65" width="4.3" height="4.3"/>
<rect x="636.05" y="240.85" width="4.3" height="4.3"/>
<rect x="636.05" y="244.65" width="4.3" height="4.3"/>
<rect x="636.05" y="251.05" width="4.3" height="4.3"/>
<rect x="636.05" y="253.45" width="4.3" height="4.3"/>
<rect x="640.25" y="241.65" width="4.3" height="4.3"/>
<rect x="640.25" y="246.05" width="4.3" height="4.3"/>
<rect x="640.25" y="249.85" width="4.3" height="4.3"/>
<rect x="640.25" y="252.85" width="4.3" height="4.3"/>
<rect x="644.45" y="246.05" width="4.3" height="4.3"/>
<rect x="644.45" y="251.45" width="4.3" height="4.3"/>
<rect x="648.65" y="246.35" width="4.3" height="4.3"/>
<rect x="648.65" y="250.35" width="4.3" height="4.3"/>
<rect x="652.85" y="245.55" width="4.3" height="4.3"/>
<rect x="652.85" y="249.35" width="4.3" height="4.3"/>
<rect x="629.55" y="237.15" width="4.3" height="4.3"/>
<path class="eb" d="M602.7 250H656.7M616.2 256.6H643.2M616.2 242.2H643.2M629.7 256.6V242.2"/>
</g>
</svg>
</body></html>
